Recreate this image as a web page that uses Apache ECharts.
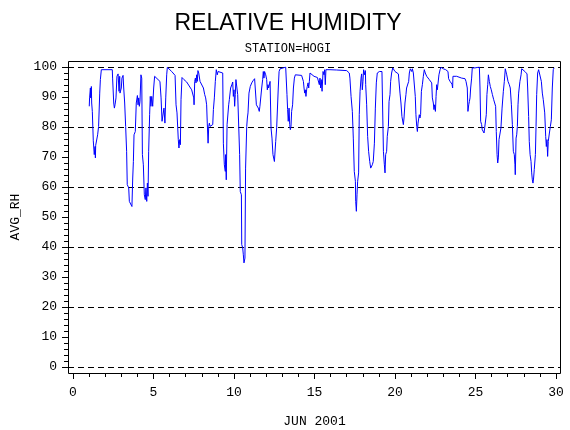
<!DOCTYPE html>
<html>
<head>
<meta charset="utf-8">
<script src="https://cdn.jsdelivr.net/npm/echarts@6/dist/echarts.min.js"></script>
<style>
  html, body { margin: 0; padding: 0; background: #fff; }
  #chart { width: 570px; height: 430px; }
</style>
</head>
<body>
<div id="chart"></div>
<script>
// === DATA : hourly-ish readings, June 2001 ===
const days = [
  1.01, 1.03, 1.08, 1.10, 1.14, 1.16, 1.20, 1.26, 1.32, 1.37, 1.39, 1.41, 1.49, 1.53, 1.59, 1.66, 1.70, 1.76,
  2.44, 2.46, 2.53, 2.57, 2.61, 2.67, 2.73, 2.80, 2.86, 2.90, 2.92, 2.96, 3.00, 3.04, 3.11, 3.15, 3.21, 3.27,
  3.33, 3.37, 3.46, 3.50, 3.60, 3.66, 3.71, 3.75, 3.79, 3.87, 3.93, 4.00, 4.04, 4.08, 4.12, 4.16, 4.22, 4.27,
  4.31, 4.37, 4.43, 4.49, 4.53, 4.58, 4.62, 4.66, 4.70, 4.76, 4.80, 4.84, 4.89, 4.95, 5.01, 5.07, 5.40, 5.47,
  5.53, 5.59, 5.65, 5.71, 5.76, 5.82, 5.86, 6.13, 6.34, 6.40, 6.46, 6.54, 6.58, 6.63, 6.67, 6.71, 6.77, 6.89,
  7.06, 7.37, 7.45, 7.50, 7.52, 7.56, 7.60, 7.64, 7.68, 7.72, 7.76, 7.81, 7.89, 7.99, 8.10, 8.18, 8.24, 8.30,
  8.34, 8.39, 8.43, 8.47, 8.51, 8.55, 8.63, 8.68, 8.72, 8.78, 8.84, 8.90, 8.96, 9.01, 9.07,
  9.13, 9.30, 9.34, 9.40, 9.46, 9.48, 9.52, 9.57, 9.63, 9.67, 9.71, 9.79, 9.88, 9.92, 9.96, 10.00, 10.04, 10.08,
  10.12, 10.17, 10.23, 10.29, 10.35, 10.39, 10.46, 10.48, 10.54, 10.58, 10.62, 10.68, 10.72, 10.79, 10.83, 10.87,
  10.93, 11.01, 11.10, 11.18, 11.28, 11.35, 11.39, 11.45, 11.51, 11.57, 11.61, 11.66, 11.72, 11.78, 11.82, 11.86,
  11.90, 11.97, 12.03, 12.07, 12.11, 12.15, 12.24, 12.30, 12.36, 12.42, 12.46, 12.51, 12.59, 12.65, 12.69, 12.75,
  12.80, 12.86, 13.06, 13.21, 13.25, 13.29, 13.33, 13.37, 13.42, 13.46, 13.50, 13.54, 13.58, 13.64, 13.69, 13.75,
  13.81, 14.20, 14.27, 14.31, 14.35, 14.39, 14.43, 14.47, 14.51, 14.55, 14.60, 14.64, 14.68, 14.72, 14.82, 14.97,
  15.09, 15.18, 15.26, 15.30, 15.34, 15.38, 15.42, 15.47, 15.53, 15.59, 15.63, 15.67, 15.71, 15.78, 15.96, 16.38,
  17.00, 17.16, 17.20, 17.27, 17.35, 17.41, 17.47, 17.54, 17.56, 17.60, 17.64, 17.68, 17.74, 17.78, 17.83, 17.89,
  17.93, 17.97, 18.01, 18.05, 18.12, 18.16, 18.18, 18.24, 18.30, 18.36, 18.43, 18.49, 18.55, 18.59, 18.65, 18.72,
  18.78, 18.84, 18.90, 19.03, 19.19,
  19.23, 19.28, 19.34, 19.38, 19.42, 19.48, 19.52, 19.59, 19.63, 19.69, 19.73, 19.79, 19.86, 19.94, 20.00, 20.10,
  20.21, 20.27, 20.31, 20.37, 20.43, 20.50, 20.52, 20.56, 20.62, 20.68, 20.72, 20.79, 20.85, 20.89, 20.95, 20.99,
  21.04, 21.08, 21.14, 21.20, 21.26, 21.30, 21.35, 21.39, 21.43, 21.47, 21.51, 21.55, 21.59, 21.64, 21.70, 21.76,
  21.82, 21.88, 21.97, 22.07, 22.13, 22.22, 22.28, 22.32, 22.38, 22.42, 22.46, 22.51, 22.55, 22.59, 22.63, 22.67,
  22.73, 22.80, 22.86, 22.94, 23.00, 23.06, 23.15, 23.21, 23.29, 23.33, 23.42, 23.48, 23.54, 23.58, 23.60, 23.64,
  23.83, 23.93, 24.14, 24.35, 24.41, 24.49, 24.53, 24.58, 24.62, 24.66, 24.70, 24.76, 24.80, 24.97, 25.07, 25.24,
  25.28, 25.32, 25.38, 25.42, 25.49, 25.53, 25.57, 25.63, 25.67, 25.71, 25.76, 25.80, 25.86, 25.92, 25.98, 26.05,
  26.13, 26.19, 26.25, 26.29, 26.34, 26.38, 26.42, 26.46, 26.52, 26.58, 26.65, 26.73, 26.79, 26.85, 26.94, 27.02,
  27.10, 27.16, 27.23, 27.29, 27.35, 27.41, 27.45, 27.47, 27.52, 27.56, 27.60, 27.64, 27.68, 27.76, 27.83, 27.87,
  27.97, 28.07, 28.20, 28.24, 28.30, 28.34, 28.39, 28.45, 28.49, 28.53, 28.57, 28.61, 28.65, 28.72, 28.76, 28.80,
  28.86, 28.92, 28.96, 29.03, 29.09, 29.15, 29.21, 29.30, 29.36, 29.40, 29.44, 29.48, 29.52, 29.59, 29.65, 29.71,
  29.77, 29.83, 29.88
];

const rh = [
  86.9, 89.7, 93.0, 89.7, 93.5, 88.0, 85.2, 75.4, 70.8, 73.5, 69.7, 73.9, 74.1, 77.4, 80.2, 91.3, 95.8, 99.1,
  99.1, 96.3, 88.0, 86.3, 87.4, 89.7, 96.9, 97.7, 91.9, 96.9, 91.3, 90.8, 93.0, 96.3, 97.2, 93.0, 88.0, 80.2,
  71.9, 60.8, 59.7, 55.2, 54.7, 53.5, 63.0, 68.5, 77.4, 78.5, 88.0, 90.5, 87.4, 89.7, 86.9, 88.5, 97.4, 96.3,
  70.8, 67.4, 57.4, 55.8, 59.7, 55.2, 61.3, 56.9, 71.9, 84.1, 90.2, 86.9, 90.2, 86.9, 93.0, 96.9, 95.2, 89.7,
  81.9, 81.3, 86.3, 81.3, 89.7, 97.4, 99.9, 98.5, 97.2, 87.4, 84.7, 75.8, 73.0, 75.8, 74.1, 89.1, 96.5, 95.8,
  95.0, 92.4, 91.9, 89.7, 87.4, 95.2, 96.3, 94.7, 97.4, 95.2, 98.8, 98.0, 95.2, 94.7, 93.0, 90.8, 89.7, 87.4,
  81.3, 74.6, 80.2, 81.3, 80.2, 80.8, 79.7, 80.8, 85.8, 89.7, 95.2, 99.1, 97.4, 98.5, 98.0,
  98.3, 98.0, 74.6, 67.4, 65.2, 70.8, 62.4, 80.8, 80.2, 87.4, 89.1, 93.0, 94.3, 95.0, 90.2, 92.4, 86.9, 90.8,
  95.8, 96.3, 90.8, 90.2, 70.8, 58.5, 57.4, 40.8, 39.7, 37.4, 34.7, 36.3, 66.3, 80.2, 83.0, 84.7,
  91.3, 93.5, 94.7, 95.4, 96.1, 95.8, 87.4, 86.9, 86.3, 85.2, 86.9, 87.4, 93.0, 95.8, 98.5, 96.3,
  98.5, 97.4, 95.8, 92.4, 94.1, 93.0, 95.2, 79.7, 76.3, 70.8, 71.3, 68.5, 75.2, 79.7, 80.2, 93.0,
  98.5, 99.4, 99.7, 100.0, 99.7, 90.8, 85.8, 81.9, 86.3, 80.8, 79.1, 80.2, 85.2, 87.4, 93.0, 96.3,
  97.4, 97.2, 96.9, 95.2, 93.0, 91.3, 92.4, 90.2, 92.4, 93.5, 94.7, 93.0, 95.2, 98.0, 97.4, 96.9,
  96.9, 96.5, 96.1, 94.1, 96.3, 93.0, 95.8, 91.9, 98.5, 97.4, 99.1, 94.1, 99.1, 99.4, 99.1, 99.0,
  98.8, 98.0, 96.3, 90.2, 85.2, 76.3, 65.2, 61.9, 55.2, 51.9, 57.4, 61.9, 64.7, 84.1, 91.9, 96.3,
  97.7, 92.4, 95.2, 99.1, 97.4, 98.8, 94.1, 87.4, 76.9, 71.9, 68.5, 66.3, 65.8, 67.4, 68.5, 74.6,
  86.3, 94.7, 98.0, 98.5, 98.5,
  98.8, 71.9, 67.4, 64.7, 70.8, 71.9, 76.9, 80.2, 88.5, 90.8, 95.2, 98.0, 99.7, 99.4, 98.5, 98.3,
  97.7, 97.2, 91.3, 88.0, 83.5, 83.0, 80.8, 83.0, 88.0, 90.8, 93.0, 93.5, 95.2, 98.0, 99.4, 99.7,
  98.5, 99.4, 98.0, 97.4, 90.2, 84.1, 80.2, 78.5, 81.3, 80.8, 84.1, 83.0, 84.1, 91.9, 94.1, 96.9,
  99.1, 98.0, 96.9, 96.3, 95.8, 95.2, 94.7, 89.7, 88.0, 85.8, 87.4, 85.2, 90.2, 94.1, 92.4, 93.0,
  97.4, 99.1, 99.9, 99.7, 99.4, 99.9, 99.1, 99.1, 98.5, 96.1, 95.2, 94.7, 94.3, 93.0, 96.9, 97.4,
  96.9, 96.5, 96.3, 96.1, 95.2, 93.0, 85.2, 87.4, 88.5, 89.7, 93.0, 96.3, 99.7, 99.7, 99.9, 100.0,
  93.0, 81.9, 80.8, 79.1, 78.8, 78.0, 79.7, 80.2, 84.1, 90.8, 94.1, 97.4, 95.2, 93.5, 92.4, 90.8,
  89.1, 88.0, 86.9, 78.5, 70.8, 68.0, 69.7, 75.8, 76.3, 79.7, 86.3, 91.9, 95.2, 99.4, 97.4, 95.2,
  94.1, 93.0, 87.4, 80.8, 71.9, 70.8, 67.4, 64.1, 76.3, 77.4, 80.2, 87.4, 91.3, 95.2, 97.4, 99.4,
  99.1, 98.5, 97.7, 93.0, 83.5, 75.2, 70.8, 68.5, 64.7, 62.4, 61.3, 63.0, 65.8, 70.8, 80.2, 90.8,
  98.0, 99.1, 99.7, 98.5, 95.2, 91.3, 89.1, 84.7, 76.9, 73.5, 75.8, 70.2, 75.2, 78.0, 80.2, 82.4,
  93.0, 99.1, 99.7
];

// Axis ticks
const xTicks = [0, 5, 10, 15, 20, 25, 30];
const yTicks = [0, 10, 20, 30, 40, 50, 60, 70, 80, 90, 100];
const refLines = [0, 20, 40, 60, 80, 100];

const labelFont = "'Liberation Mono', 'DejaVu Sans Mono', monospace";

// === GRAPH ===
function initGraph() {
    const chart = echarts.init(document.getElementById("chart"), null, { renderer: "canvas" });
    const option = {
        backgroundColor: "#fff",
        animation: false,
        title: [
            {
                text: "RELATIVE HUMIDITY",
                left: 288, top: 12, textAlign: "center", padding: 0,
                textStyle: { fontFamily: "'Liberation Sans', Arial, sans-serif", fontSize: 23, fontWeight: "normal", color: "#000" }
            },
            {
                text: "STATION=HOGI",
                left: 288, top: 43, textAlign: "center", padding: 0,
                textStyle: { fontFamily: labelFont, fontSize: 12, fontWeight: "normal", color: "#000" }
            }
        ],
        grid: [
            // grille des donnees
            { left: 73, right: 14, top: 67, bottom: 63, containLabel: false, outerBoundsMode: "none" },
            // grille du cadre (lignes pointillees sur toute la largeur)
            { left: 68, right: 9, top: 67, bottom: 63, containLabel: false, outerBoundsMode: "none" }
        ],
        graphic: [{
            type: "rect",
            shape: { x: 68.5, y: 61.5, width: 492, height: 312 },
            style: { fill: null, stroke: "#000", lineWidth: 1 },
            silent: true, z: 10
        }],
        xAxis: [
            {
                type: "value", gridIndex: 0,
                min: xTicks[0], max: xTicks[xTicks.length - 1], interval: 5,
                offset: 6,
                name: "JUN 2001", nameLocation: "middle", nameGap: 42,
                nameTextStyle: { fontFamily: labelFont, fontSize: 13, color: "#000" },
                axisLine: { show: true, onZero: false, lineStyle: { color: "#000", width: 1 } },
                axisTick: { show: true, length: 6, lineStyle: { color: "#000" } },
                minorTick: { show: true, splitNumber: 5, length: 4, lineStyle: { color: "#000" } },
                axisLabel: { margin: 13, fontFamily: labelFont, fontSize: 13, color: "#000" },
                splitLine: { show: false }
            },
            {
                type: "value", gridIndex: 1,
                min: xTicks[0], max: xTicks[xTicks.length - 1],
                axisLine: { show: false }, axisTick: { show: false }, axisLabel: { show: false },
                splitLine: { show: false }
            }
        ],
        yAxis: [
            {
                type: "value", gridIndex: 0,
                min: yTicks[0], max: yTicks[yTicks.length - 1], interval: 10,
                offset: 5,
                name: "AVG_RH", nameLocation: "middle", nameGap: 46, nameRotate: 90,
                nameTextStyle: { fontFamily: labelFont, fontSize: 13, color: "#000" },
                axisLine: { show: true, onZero: false, lineStyle: { color: "#000", width: 1 } },
                axisTick: { show: true, length: 6, lineStyle: { color: "#000" } },
                minorTick: { show: true, splitNumber: 5, length: 4, lineStyle: { color: "#000" } },
                axisLabel: { margin: 11, fontFamily: labelFont, fontSize: 13, color: "#000" },
                splitLine: { show: false }
            },
            {
                // axe invisible pour les lignes pointillees
                type: "value", gridIndex: 1,
                min: refLines[0], max: refLines[refLines.length - 1], interval: 20,
                axisLine: { show: false }, axisTick: { show: false }, axisLabel: { show: false },
                splitLine: { show: true, lineStyle: { color: "#000", type: [6, 4], width: 1 } }
            }
        ],
        series: [{
            type: "line",
            xAxisIndex: 0, yAxisIndex: 0,
            data: days.map((d, i) => [d, rh[i]]),
            showSymbol: false,
            lineStyle: { color: "#0000ff", width: 1 },
            z: 5
        }]
    };
    chart.setOption(option);
}

document.addEventListener("DOMContentLoaded", initGraph);
</script>
</body>
</html>
